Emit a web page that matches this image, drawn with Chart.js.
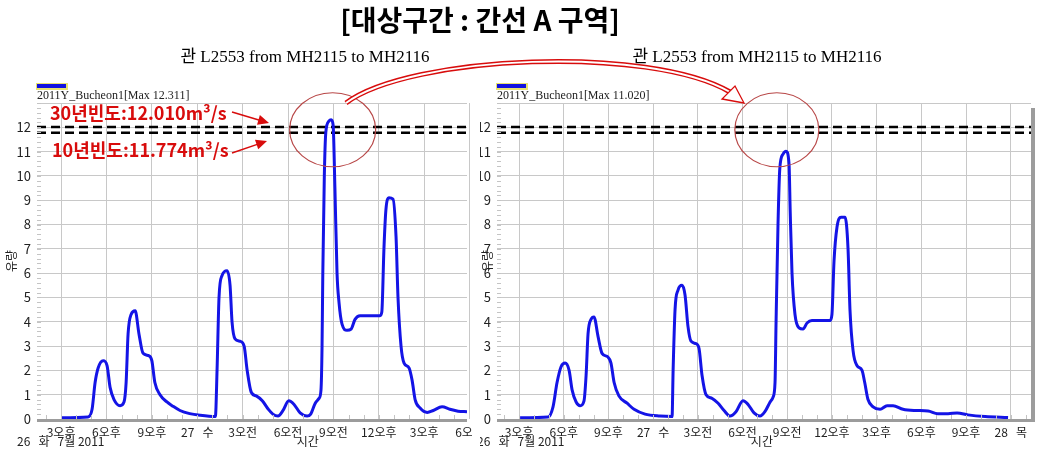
<!DOCTYPE html>
<html>
<head>
<meta charset="utf-8">
<script src="https://cdn.jsdelivr.net/npm/chart.js@4.4.1/dist/chart.umd.min.js"></script>
<style>
body { margin: 0; background: #fff; width: 1044px; height: 452px; position: relative; overflow: hidden; }
canvas { position: absolute; top: 0; }
#c1 { left: 0; }
#c2 { left: 480px; }
#over { left: 0; pointer-events: none; }
</style>
</head>
<body>
<canvas id="c1" width="472" height="452"></canvas>
<canvas id="c2" width="564" height="452"></canvas>
<canvas id="over" width="1044" height="452"></canvas>
<script>
// hours counted from 26 July 2011 00:00
const timeA = [15.0, 16.78, 17.05, 17.25, 17.45, 17.78, 18.04, 18.24, 18.5, 18.9, 19.16, 19.3, 19.43, 19.63, 19.9, 20.15, 20.42, 20.82, 21.0, 21.2, 21.54, 22.0, 22.34, 22.86, 23.5, 24.2, 25.2, 25.31, 25.44, 25.64, 25.97, 26.17, 26.3, 26.5, 26.83, 27.1, 27.3, 27.57, 27.9, 28.3, 28.7, 29.0, 29.34, 29.67, 30.05, 30.4, 30.8, 31.26, 31.5, 31.8, 32.05, 32.18, 32.25, 32.3, 32.4, 32.5, 32.7, 32.85, 32.98, 33.1, 33.24, 33.37, 33.57, 33.9, 34.17, 34.43, 34.76, 36.08, 36.2, 36.34, 36.47, 36.67, 36.94, 37.14, 37.27, 37.47, 37.67, 38.0, 38.2, 38.4, 38.73, 39.2, 39.6, 40.18, 40.7, 41.24, 41.83];
const flowA = [0.05, 0.08, 0.4, 1.5, 2.1, 2.4, 2.2, 1.3, 0.8, 0.55, 0.7, 1.5, 3.5, 4.3, 4.45, 3.5, 2.7, 2.6, 2.4, 1.5, 1.0, 0.7, 0.55, 0.35, 0.22, 0.15, 0.1, 2.0, 5.0, 5.9, 6.1, 5.5, 4.0, 3.3, 3.2, 3.0, 2.0, 1.1, 0.95, 0.75, 0.4, 0.2, 0.12, 0.35, 0.75, 0.6, 0.25, 0.12, 0.2, 0.65, 0.85, 1.2, 3.0, 6.0, 10.0, 11.8, 12.25, 12.31, 12.1, 9.5, 6.0, 4.8, 3.9, 3.65, 3.7, 4.1, 4.25, 4.25, 4.4, 7.0, 8.6, 9.1, 9.05, 7.5, 5.0, 3.0, 2.3, 2.1, 1.6, 0.8, 0.45, 0.27, 0.35, 0.5, 0.4, 0.32, 0.3];

const timeB = [15.07, 16.95, 17.28, 17.55, 17.82, 18.09, 18.36, 18.56, 18.83, 19.1, 19.36, 19.5, 19.63, 19.83, 20.03, 20.3, 20.57, 20.97, 21.17, 21.38, 21.7, 22.25, 22.72, 23.46, 24.46, 25.27, 25.34, 25.47, 25.67, 25.94, 26.14, 26.34, 26.54, 26.88, 27.08, 27.28, 27.55, 27.95, 28.36, 28.76, 29.16, 29.56, 30.03, 30.37, 30.77, 31.17, 31.5, 31.85, 32.05, 32.18, 32.25, 32.38, 32.5, 32.72, 32.92, 33.12, 33.2, 33.32, 33.52, 33.79, 34.06, 34.33, 34.66, 35.87, 36.0, 36.14, 36.34, 36.61, 36.88, 37.08, 37.21, 37.42, 37.68, 38.02, 38.2, 38.42, 38.76, 39.23, 39.7, 40.1, 40.77, 41.58, 42.45, 43.1, 43.8, 44.4, 45.13, 46.28, 47.82];
const flowB = [0.05, 0.08, 0.5, 1.5, 2.15, 2.3, 2.0, 1.2, 0.7, 0.55, 0.75, 1.8, 3.5, 4.1, 4.2, 3.4, 2.7, 2.55, 2.3, 1.5, 0.95, 0.65, 0.4, 0.2, 0.12, 0.1, 2.0, 4.5, 5.3, 5.5, 5.1, 3.8, 3.2, 3.1, 2.9, 1.8, 1.0, 0.85, 0.65, 0.35, 0.12, 0.3, 0.75, 0.6, 0.25, 0.12, 0.3, 0.7, 0.9, 1.5, 4.0, 8.0, 10.3, 10.9, 11.02, 10.5, 8.5, 6.0, 4.3, 3.75, 3.7, 3.95, 4.05, 4.05, 4.3, 6.5, 7.9, 8.3, 8.3, 7.0, 4.5, 2.8, 2.2, 2.0, 1.5, 0.8, 0.5, 0.4, 0.55, 0.55, 0.4, 0.35, 0.33, 0.22, 0.22, 0.25, 0.17, 0.1, 0.06];

const freq30 = 12.010;
const freq10 = 11.774;

const tickHours = [15, 18, 21, 24, 27, 30, 33, 36, 39, 42, 45, 48];
const tickNames = ['3오후', '6오후', '9오후', '27   수', '3오전', '6오전', '9오전', '12오후', '3오후', '6오후', '9오후', '28   목'];

Chart.defaults.font.family = "'Noto Sans CJK KR', 'DejaVu Sans', sans-serif";
Chart.defaults.font.size = 12;
Chart.defaults.color = '#222';

const extras = {
    id: 'extras',
    afterDraw(chart, args, opts) {
        const ctx = chart.ctx;
        const area = chart.chartArea;
        const x = chart.scales.x;
        const y = chart.scales.y;
        ctx.save();
        // minor ticks
        ctx.strokeStyle = '#c4c4c4';
        ctx.lineWidth = 1;
        ctx.beginPath();
        for (let v = 0; v <= 13; v += 0.2) {
            const py = Math.round(y.getPixelForValue(v)) + 0.5;
            ctx.moveTo(area.left, py);
            ctx.lineTo(area.left + 4, py);
        }
        for (let h = Math.ceil(x.min); h <= x.max; h++) {
            const px = Math.round(x.getPixelForValue(h)) + 0.5;
            ctx.moveTo(px, area.bottom - 4);
            ctx.lineTo(px, area.bottom);
        }
        ctx.stroke();
        // bottom axis bar
        ctx.fillStyle = '#9c9c9c';
        ctx.fillRect(area.left, area.bottom, area.right - area.left, 3);
        if (opts.rightBorder) {
            ctx.fillRect(area.right, area.top + 5, 4, area.bottom - area.top - 2);
        }
        // legend swatch and series name
        ctx.fillStyle = '#e8e070';
        ctx.fillRect(area.left - 1, area.top - 20, 32, 7);
        ctx.fillStyle = '#1010e0';
        ctx.fillRect(area.left, area.top - 19, 29, 4);
        ctx.fillStyle = '#222';
        ctx.font = "12px 'Liberation Serif', serif";
        ctx.textBaseline = 'middle';
        ctx.textAlign = 'left';
        ctx.fillText(chart.data.datasets[0].label, area.left, area.top - 7);
        // date row and axis name
        ctx.font = "12px 'Noto Sans CJK KR', sans-serif";
        ctx.fillText('26   화   7월 2011', area.left - 20, 441);
        ctx.textAlign = 'center';
        ctx.fillText('시간', x.getPixelForValue(31.3), 441);
        ctx.restore();
    }
};

function makeConfig(times, flows, name, xmin, xmax, yWidth, titlePad, padRight, rightBorder) {
    return {
        type: 'line',
        data: {
            datasets: [{
                label: name,
                data: times.map((t, i) => ({ x: t, y: flows[i] })),
                borderColor: '#1414e6',
                borderWidth: 3,
                pointRadius: 0,
                cubicInterpolationMode: 'monotone'
            },
            {
                label: '30년빈도',
                data: [{ x: xmin, y: freq30 }, { x: xmax, y: freq30 }],
                borderColor: '#000',
                borderWidth: 2.5,
                borderDash: [9, 5],
                pointRadius: 0
            },
            {
                label: '10년빈도',
                data: [{ x: xmin, y: freq10 }, { x: xmax, y: freq10 }],
                borderColor: '#000',
                borderWidth: 2.5,
                borderDash: [9, 5],
                pointRadius: 0
            }]
        },
        options: {
            responsive: false,
            animation: false,
            layout: { autoPadding: false, padding: { top: 103, right: padRight, bottom: 0, left: 0 } },
            plugins: {
                legend: { display: false },
                tooltip: { enabled: false },
                extras: { rightBorder: rightBorder }
            },
            scales: {
                x: {
                    type: 'linear',
                    min: xmin,
                    max: xmax,
                    grid: { color: '#c8c8c8', drawTicks: false },
                    border: { display: false },
                    afterBuildTicks: (scale) => {
                        scale.ticks = tickHours.filter(h => h <= xmax + 0.5).map(h => ({ value: h }));
                    },
                    afterFit: (scale) => {
                        scale.height = 33;
                        scale.paddingLeft = 0;
                        scale.paddingRight = 0;
                    },
                    ticks: {
                        autoSkip: false,
                        maxRotation: 0,
                        padding: 6,
                        callback: (v) => tickNames[tickHours.indexOf(v)]
                    }
                },
                y: {
                    min: 0,
                    max: 13,
                    grid: { color: '#c8c8c8', drawTicks: false },
                    border: { display: false },
                    afterFit: (scale) => {
                        scale.width = yWidth;
                        scale.paddingTop = 0;
                        scale.paddingBottom = 0;
                    },
                    title: { display: true, text: '유량', font: { size: 12 }, padding: { top: titlePad, bottom: 0 } },
                    ticks: {
                        stepSize: 1,
                        padding: 6,
                        font: { size: 13 },
                        callback: (v) => v > 12 ? '' : v
                    }
                }
            }
        },
        plugins: [extras]
    };
}

const chartA = new Chart(
    document.getElementById('c1'),
    makeConfig(timeA, flowA, '2011Y_Bucheon1[Max 12.311]', 13.41, 41.83, 37, 4, 5, false)
);
const chartB = new Chart(
    document.getElementById('c2'),
    makeConfig(timeB, flowB, '2011Y_Bucheon1[Max 11.020]', 13.52, 49.36, 17, 0, 13, true)
);

// annotations on top
const ov = document.getElementById('over').getContext('2d');
ov.textBaseline = 'middle';
ov.textAlign = 'center';
ov.fillStyle = '#000';
ov.font = "bold 28px 'Noto Sans CJK KR', sans-serif";
ov.fillText('[대상구간 : 간선 A 구역]', 480, 20);
ov.font = "17px 'Liberation Serif', 'Noto Sans CJK KR', serif";
ov.fillText('관 L2553 from MH2115 to MH2116', 305, 58);
ov.fillText('관 L2553 from MH2115 to MH2116', 757, 58);

const red = '#d80c0c';
ov.textAlign = 'left';
ov.fillStyle = red;
ov.font = "bold 18px 'Noto Sans CJK KR', sans-serif";
ov.fillText('30년빈도:12.010m³/s', 50, 113);
ov.fillText('10년빈도:11.774m³/s', 52, 150);

function arrow(x0, y0, x1, y1) {
    const a = Math.atan2(y1 - y0, x1 - x0);
    ov.strokeStyle = red;
    ov.lineWidth = 1.5;
    ov.beginPath();
    ov.moveTo(x0, y0);
    ov.lineTo(x1 - 8 * Math.cos(a), y1 - 8 * Math.sin(a));
    ov.stroke();
    ov.beginPath();
    ov.moveTo(x1, y1);
    ov.lineTo(x1 - 11 * Math.cos(a) + 5 * Math.sin(a), y1 - 11 * Math.sin(a) - 5 * Math.cos(a));
    ov.lineTo(x1 - 11 * Math.cos(a) - 5 * Math.sin(a), y1 - 11 * Math.sin(a) + 5 * Math.cos(a));
    ov.closePath();
    ov.fill();
}
arrow(232, 112, 269, 123);
arrow(232, 153, 267, 141);

ov.strokeStyle = '#b84848';
ov.lineWidth = 1.2;
const exA = chartA.scales.x.getPixelForValue(32.95);
const eyA = chartA.scales.y.getPixelForValue(11.9);
ov.beginPath();
ov.ellipse(exA, eyA, 43, 37, 0, 0, Math.PI * 2);
ov.stroke();
const exB = 480 + chartB.scales.x.getPixelForValue(32.3);
const eyB = chartB.scales.y.getPixelForValue(11.9);
ov.beginPath();
ov.ellipse(exB, eyB, 42, 37, 0, 0, Math.PI * 2);
ov.stroke();

// curved hollow arrow linking both peaks
function curve() {
    ov.beginPath();
    ov.moveTo(346, 103);
    ov.bezierCurveTo(410, 55, 650, 45, 730, 92);
}
ov.lineCap = 'butt';
ov.strokeStyle = red;
ov.lineWidth = 5;
curve();
ov.stroke();
ov.strokeStyle = '#fff';
ov.lineWidth = 2;
curve();
ov.stroke();
ov.strokeStyle = red;
ov.fillStyle = '#fff';
ov.lineWidth = 1.3;
ov.beginPath();
ov.moveTo(744, 103);
ov.lineTo(722, 99);
ov.lineTo(735, 86);
ov.closePath();
ov.fill();
ov.stroke();
</script>
</body>
</html>
